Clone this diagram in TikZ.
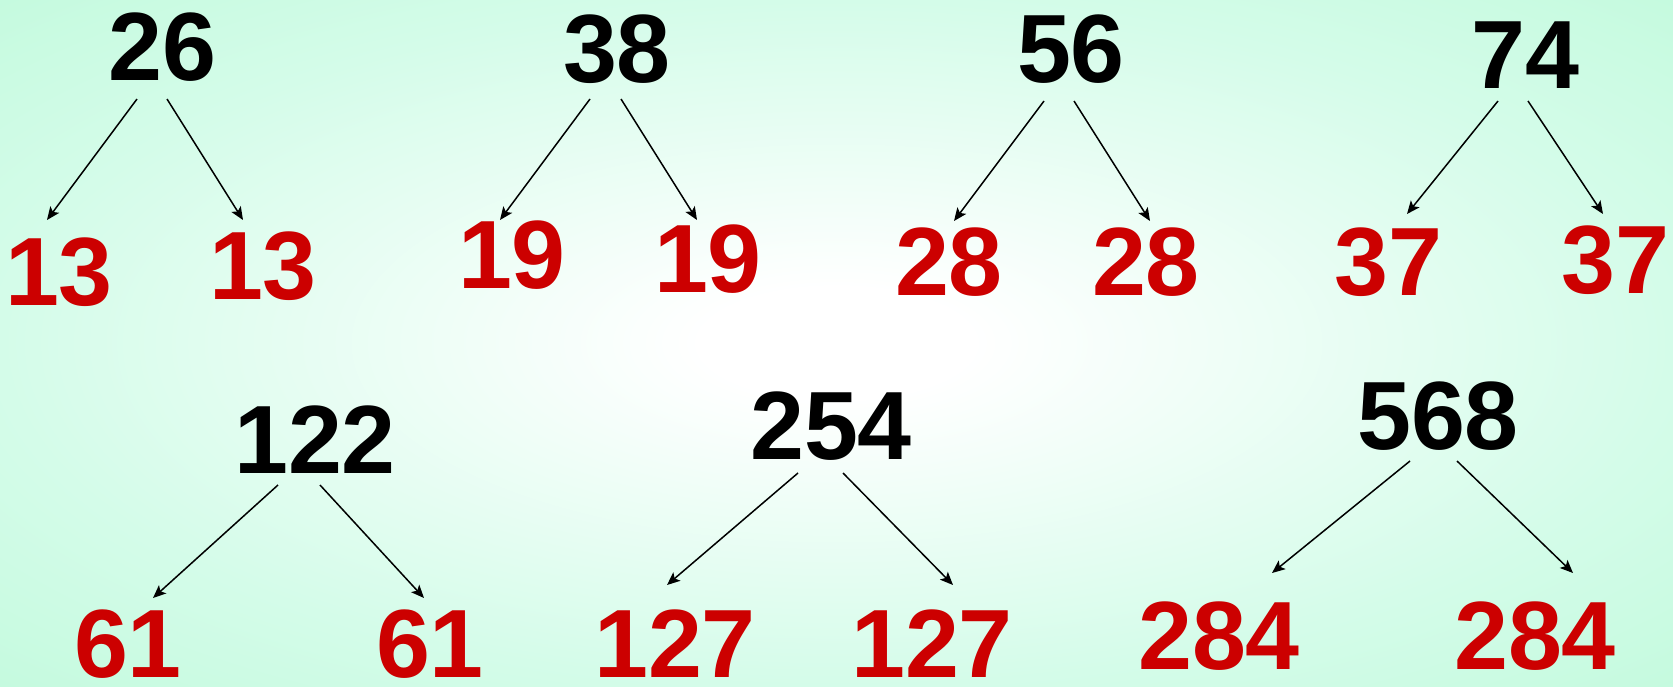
\documentclass[tikz,border=0pt]{standalone}
\usepackage{fontspec}
\setmainfont{Liberation Sans}
\usetikzlibrary{arrows.meta}
\definecolor{numred}{RGB}{204,0,0}
\definecolor{bgedge}{RGB}{212,252,233}
\definecolor{bgcorner}{RGB}{196,250,222}
\pgfdeclareradialshading{bgshade}{\pgfpoint{0bp}{0bp}}{color(0bp)=(white); color(4bp)=(white); color(25bp)=(bgedge); color(36bp)=(bgcorner); color(50bp)=(bgcorner)}
\tikzset{
  numbase/.style={inner sep=0pt, anchor=base, text depth=0pt, text height=70pt, font=\fontsize{97}{100}\selectfont\bfseries},
  parentnum/.style={numbase, text=black},
  childnum/.style={numbase, text=numred},
  arr/.style={draw=black, line width=1.5pt, -{Stealth[length=13pt,width=11pt,inset=3pt]}}
}
\begin{document}
\begin{tikzpicture}[x=1pt,y=-1pt]
\useasboundingbox (0,0) rectangle (1673,686);
\shade[shading=bgshade] (0,0) rectangle (1673,686);
% top row
\node[parentnum] (p1) at (162.5,80) {26};
\node[childnum] (c1a) at (59,305) {13};
\node[childnum] (c1b) at (263,299) {13};
\node[parentnum] (p2) at (617,82) {38};
\node[childnum] (c2a) at (512,288) {19};
\node[childnum] (c2b) at (708,292) {19};
\node[parentnum] (p3) at (1071,82) {56};
\node[childnum] (c3a) at (949,295) {28};
\node[childnum] (c3b) at (1146,295) {28};
\node[parentnum] (p4) at (1525,88) {74};
\node[childnum] (c4a) at (1388,295) {37};
\node[childnum] (c4b) at (1615,293) {37};
% bottom row
\node[parentnum] (p5) at (315,473) {122};
\node[childnum] (c5a) at (128,677) {61};
\node[childnum] (c5b) at (430,677) {61};
\node[parentnum] (p6) at (831,459) {254};
\node[childnum] (c6a) at (675,677) {127};
\node[childnum] (c6b) at (932,677) {127};
\node[parentnum] (p7) at (1438,449) {568};
\node[childnum] (c7a) at (1219,669) {284};
\node[childnum] (c7b) at (1535,669) {284};
% connector end points
\coordinate (p1l) at (137,99);  \coordinate (c1at) at (47,220);
\coordinate (p1r) at (167,99);  \coordinate (c1bt) at (243,220);
\coordinate (p2l) at (590,99);  \coordinate (c2at) at (500,220);
\coordinate (p2r) at (621,99);  \coordinate (c2bt) at (697,220);
\coordinate (p3l) at (1044,101); \coordinate (c3at) at (954,221);
\coordinate (p3r) at (1074,101); \coordinate (c3bt) at (1150,221);
\coordinate (p4l) at (1498,101); \coordinate (c4at) at (1407,214);
\coordinate (p4r) at (1528,101); \coordinate (c4bt) at (1603,214);
\coordinate (p5l) at (278,485); \coordinate (c5at) at (153,598);
\coordinate (p5r) at (320,485); \coordinate (c5bt) at (424,598);
\coordinate (p6l) at (798,473); \coordinate (c6at) at (667,585);
\coordinate (p6r) at (843,473); \coordinate (c6bt) at (953,585);
\coordinate (p7l) at (1410,461); \coordinate (c7at) at (1272,573);
\coordinate (p7r) at (1457,461); \coordinate (c7bt) at (1573,573);
\foreach \i in {1,...,7}{
  \draw[arr] (p\i l) -- (c\i at);
  \draw[arr] (p\i r) -- (c\i bt);
}
\end{tikzpicture}
\end{document}
